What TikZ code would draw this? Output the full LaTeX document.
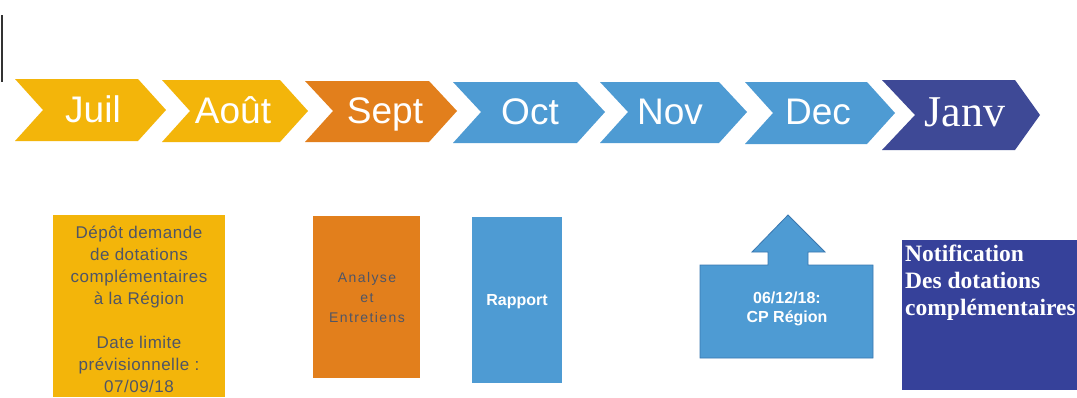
\documentclass[tikz,border=0pt]{standalone}
\usepackage{fontspec}
\setmainfont{Liberation Serif}
\setsansfont{Liberation Sans}
\begin{document}
\begin{tikzpicture}[x=1pt,y=-1pt,
  month/.style={text=white,font=\sffamily\fontsize{37}{37}\selectfont,inner sep=0pt,anchor=base},
  boxtext/.style={text=textgray,font=\sffamily\addfontfeature{LetterSpace=3}\fontsize{17}{22}\selectfont,align=center,inner sep=0pt}]
\definecolor{cyellow}{HTML}{F3B50A}
\definecolor{corange}{HTML}{E27F1C}
\definecolor{cblue}{HTML}{4E9BD3}
\definecolor{cnavy}{HTML}{3E4996}
\definecolor{cnavybox}{HTML}{36419A}
\definecolor{textgray}{HTML}{4F5566}
\definecolor{cborder}{HTML}{3A78B0}
\useasboundingbox (0,0) rectangle (1077,397);
\fill[white] (0,0) rectangle (1077,397);
% left black mark
\draw[line width=2pt,black!80] (2,15) -- (2,82);
% chevrons
\fill[cyellow] (15,79) -- (138,79) -- (166,110) -- (138,141) -- (15,141) -- (43,110) -- cycle;
\fill[cyellow] (162,80) -- (280,80) -- (308,111) -- (280,142) -- (162,142) -- (190,111) -- cycle;
\fill[corange] (305,81) -- (429,81) -- (457,111) -- (429,142) -- (305,142) -- (333,111) -- cycle;
\fill[cblue] (453,82) -- (577,82) -- (605,112) -- (577,143) -- (453,143) -- (481,112) -- cycle;
\fill[cblue] (600,82) -- (719,82) -- (747,112) -- (719,143) -- (600,143) -- (628,112) -- cycle;
\fill[cblue] (745,82) -- (867,82) -- (895,113) -- (867,144) -- (745,144) -- (773,113) -- cycle;
\fill[cnavy] (882,80) -- (1015,80) -- (1040,115) -- (1015,150) -- (882,150) -- (915,115) -- cycle;
% month labels
\node[month] (juil) at (93,122) {Juil};
\node[month] (aout) at (233,123) {Août};
\node[month] (sept) at (385,123) {Sept};
\node[month] (oct) at (530,124) {Oct};
\node[month] (nov) at (670,124) {Nov};
\node[month] (dec) at (818,124) {Dec};
\node[text=white,font=\fontsize{44}{44}\selectfont,inner sep=0pt,anchor=base] (janv) at (965,126) {Janv};
% boxes
\fill[cyellow] (53,215) rectangle (225,397);
\node[boxtext,anchor=north] (depot) at (139,226) {Dépôt demande\\de dotations\\complémentaires\\à la Région\\[22pt]Date limite\\prévisionnelle :\\07/09/18};
\fill[corange] (313,216) rectangle (420,378);
\node[boxtext,font=\sffamily\addfontfeature{LetterSpace=10}\fontsize{14}{20}\selectfont] (analyse) at (367,297) {Analyse\\et\\Entretiens};
\fill[cblue] (472,217) rectangle (562,383);
\node[text=white,font=\sffamily\bfseries\fontsize{16}{16}\selectfont,inner sep=0pt] (rapport) at (517,302) {Rapport};
% callout
\filldraw[fill=cblue,draw=cborder,line width=0.8pt] (700,265) -- (768,265) -- (768,252) -- (752,252) -- (788,215) -- (825,252) -- (808,252) -- (808,265) -- (873,265) -- (873,358) -- (700,358) -- cycle;
\node[text=white,font=\sffamily\bfseries\fontsize{16}{19}\selectfont,align=center,inner sep=0pt] (cp) at (787,309) {06/12/18:\\CP Région};
% notification box
\fill[cnavybox] (902,240) rectangle (1077,390);
\node[text=white,font=\bfseries\fontsize{23.5}{27}\selectfont,align=left,inner sep=0pt,anchor=north west] (notif) at (905,245) {Notification\\Des dotations\\complémentaires};
\end{tikzpicture}
\end{document}
